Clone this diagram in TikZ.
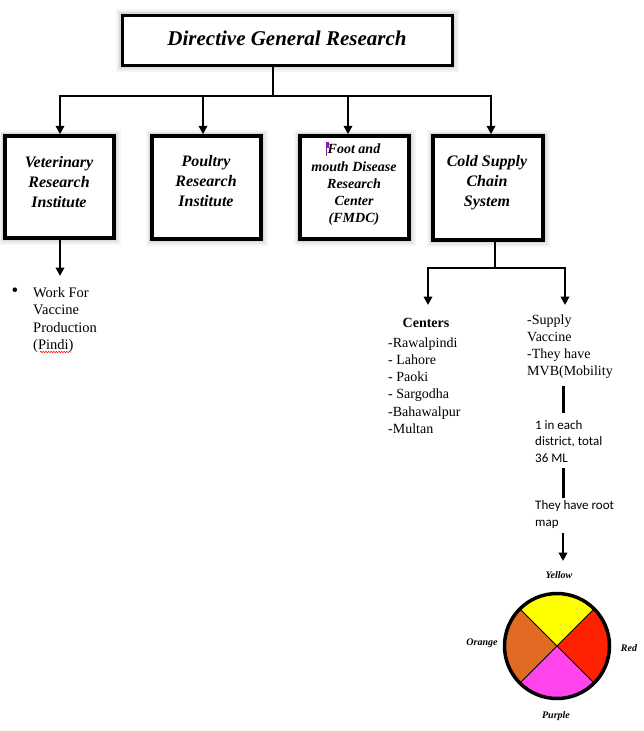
\documentclass[tikz,border=0pt]{standalone}
\usepackage{fontspec}
\setmainfont{Liberation Serif}
\newfontfamily\calfont{Carlito}
\usetikzlibrary{arrows.meta,decorations.pathmorphing,calc}
\definecolor{wyellow}{RGB}{255,255,0}
\definecolor{wred}{RGB}{255,34,0}
\definecolor{wpurple}{RGB}{255,68,238}
\definecolor{worange}{RGB}{224,106,34}
\definecolor{cursor}{RGB}{140,30,170}
\begin{document}
\begin{tikzpicture}[x=1pt,y=-1pt,
  glow/.style={preaction={draw=black,opacity=0.04,line width=13pt},
               preaction={draw=black,opacity=0.05,line width=9pt},
               preaction={draw=black,opacity=0.06,line width=6pt}},
  box/.style={draw, line width=3.5pt, fill=white, inner sep=0pt, glow},
  boxtext/.style={font=\fontsize{16}{20}\selectfont\bfseries\itshape, align=center, inner sep=0pt},
  smalltext/.style={font=\fontsize{14}{17.3}\selectfont\bfseries\itshape, align=center, inner sep=0pt},
  body/.style={font=\fontsize{14}{17.3}\selectfont, align=left, inner sep=0pt, anchor=west},
  cal/.style={font=\calfont\fontsize{13}{16.7}\selectfont, align=left, inner sep=0pt, anchor=west},
  wlabel/.style={font=\fontsize{10}{11}\selectfont\bfseries\itshape, inner sep=0pt},
  bus/.style={line width=2.6pt},
  arr/.style={line width=2.6pt, -{Triangle[width=8.5pt,length=8.5pt]}},
]
\useasboundingbox (0,0) rectangle (643,731);
\fill[white] (0,0) rectangle (643,731);

% title
\node[box, line width=3pt, minimum width=330pt, minimum height=50pt,
      font=\fontsize{21}{24}\selectfont\bfseries\itshape] (title) at (287,40) {\raisebox{3pt}{Directive General Research}};

% boxes
\node[box, minimum width=109pt, minimum height=102pt] (vet) at (59.5,187) {};
\node[box, minimum width=109pt, minimum height=103pt] (poul) at (206.5,187.5) {};
\node[box, minimum width=109pt, minimum height=103pt] (fmdc) at (354.5,187.5) {};
\node[box, minimum width=110pt, minimum height=104pt] (cold) at (488,188) {};

\node[boxtext] (vett) at (59,182) {Veterinary\\Research\\Institute};
\node[boxtext] (poult) at (206,181.5) {Poultry\\Research\\Institute};
\node[smalltext] (fmdct) at (354,185) {Foot and\\mouth Disease\\Research\\Center\\(FMDC)};
\node[boxtext] (coldt) at (487,182.5) {Cold Supply\\Chain\\System};

% cursor mark
\fill[cursor] (326.3,141.5) rectangle (328.8,148);
\draw[cursor, line width=0.5pt] (326.6,148) -- (326.6,156);

% bus from title
\coordinate (j1) at (273,96);
\coordinate (b1) at (60,96);
\coordinate (b2) at (203,96);
\coordinate (b3) at (348,96);
\coordinate (b4) at (491,96);
\draw[bus] (title.south -| j1) -- (j1);
\draw[bus] ([xshift=-1.3pt]b1) -- ([xshift=1.3pt]b4);
\draw[arr] (b1) -- (b1 |- vet.north);
\draw[arr] (b2) -- (b2 |- poul.north);
\draw[arr] (b3) -- (b3 |- fmdc.north);
\draw[arr] (b4) -- (b4 |- cold.north);

% veterinary branch
\coordinate (v1) at (60,276);
\draw[arr] (vet.south -| v1) -- (v1);
\node[font=\fontsize{19}{19}\selectfont, inner sep=0pt] (bul) at (15,292) {•};
\node[body, anchor=north west, font=\fontsize{14.5}{17.5}\selectfont] (work) at (33,287) {Work For\\Vaccine\\Production\\(Pindi)};
\draw[red, line width=0.5pt, decorate, decoration={snake, amplitude=0.7pt, segment length=2.6pt}] (40,352) -- (71,352);

% cold chain branch
\coordinate (c1) at (495,268);
\coordinate (cl) at (428,268);
\coordinate (cr) at (565,268);
\coordinate (cla) at (428,305);
\coordinate (cra) at (565,305);
\draw[bus] (cold.south -| c1) -- (c1);
\draw[bus] ([xshift=-1.3pt]cl) -- ([xshift=1.3pt]cr);
\draw[arr] (cl) -- (cla);
\draw[arr] (cr) -- (cra);

\node[font=\fontsize{14}{17}\selectfont\bfseries, inner sep=0pt] (cent) at (426,323) {Centers};
\node[body] (cities) at (388,385.5) {-Rawalpindi\\- Lahore\\- Paoki\\- Sargodha\\-Bahawalpur\\-Multan};

\node[body, font=\fontsize{14}{17.2}\selectfont] (supply) at (527,346.5) {-Supply\\Vaccine\\-They have\\MVB(Mobility};

\coordinate (s1) at (563,386);
\coordinate (s2) at (563,413);
\draw[line width=3pt] (s1) -- (s2);

\node[cal] (dist) at (535,441.5) {1 in each\\district, total\\36 ML};

\coordinate (s3) at (563,468);
\coordinate (s4) at (563,498);
\draw[line width=3pt] (s3) -- (s4);

\node[cal] (root) at (535,514.5) {They have root\\map};

\coordinate (s5) at (563,533);
\coordinate (s6) at (563,561);
\draw[arr] (s5) -- (s6);

% colour wheel
\coordinate (wc) at (557,646);
\fill[wyellow] (wc) -- ++(225:52) arc[start angle=225, end angle=315, radius=52] -- cycle;
\fill[wred] (wc) -- ++(-45:52) arc[start angle=-45, end angle=45, radius=52] -- cycle;
\fill[wpurple] (wc) -- ++(45:52) arc[start angle=45, end angle=135, radius=52] -- cycle;
\fill[worange] (wc) -- ++(135:52) arc[start angle=135, end angle=225, radius=52] -- cycle;
\draw[line width=0.8pt] ($(wc)+(45:52)$) -- ($(wc)+(225:52)$);
\draw[line width=0.8pt] ($(wc)+(135:52)$) -- ($(wc)+(315:52)$);
\node[circle, draw, line width=3.5pt, minimum size=105pt, inner sep=0pt] (wheel) at (wc) {};

\node[wlabel] (ly) at (559,575) {Yellow};
\node[wlabel] (lo) at (482,643) {Orange};
\node[wlabel] (lr) at (629,648) {Red};
\node[wlabel] (lp) at (556,716) {Purple};
\end{tikzpicture}
\end{document}
